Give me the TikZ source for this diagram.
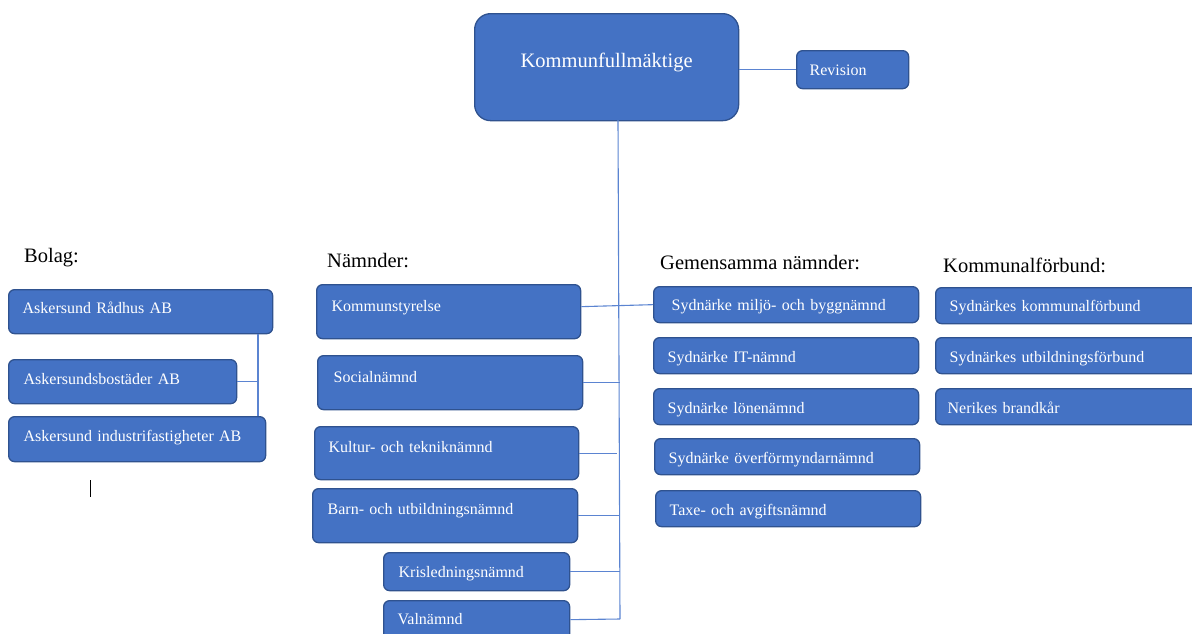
\documentclass[tikz,border=0pt]{standalone}
\usepackage{fontspec}
\setmainfont{Liberation Serif}
\definecolor{fyll}{HTML}{4472C4}
\definecolor{kant}{HTML}{2F528F}
\definecolor{streck}{HTML}{5B84D1}

\begin{document}
\begin{tikzpicture}[x=1pt,y=-1pt,
  ruta/.style={draw=kant,fill=fyll,line width=1.3pt,rounded corners=6pt,text=white,font=\fontsize{16}{19}\selectfont,align=left,inner ysep=0pt,anchor=north west},
  matt/.style n args={4}{text width=#1pt,inner xsep=#2pt,text height=#3pt,text depth=#4pt},
  rubrik/.style={font=\fontsize{20.5}{24}\selectfont,inner sep=0pt,anchor=base west},
  linje/.style={draw=streck,line width=1.1pt}]

                \useasboundingbox (0,0) rectangle (1192,633);

                % fullmäktige och revision
                \node[ruta, rounded corners=16pt, align=center, font=\fontsize{20.5}{24}\selectfont, matt={244}{10}{54}{53}] (kf) at (474,13) {Kommunfullmäktige};
                \node[ruta, matt={86}{13}{25}{13}] (rev) at (796,50) {Revision};

                % rubriker
                \node[rubrik] (bolag) at (24,262) {Bolag:};
                \node[rubrik] (namnder) at (327,267) {Nämnder:};
                \node[rubrik] (gemensamma) at (660,269) {Gemensamma nämnder:};
                \node[rubrik] (forbund) at (943,272) {Kommunalförbund:};

                % bolag
                \node[ruta, matt={236}{14}{24}{20}] (b1) at (8,289) {Askersund Rådhus AB};
                \node[ruta, matt={198}{15}{25}{19}] (b2) at (8,359) {Askersundsbostäder AB};
                \node[ruta, matt={227}{15}{25}{20}] (b3) at (8,416) {Askersund industrifastigheter AB};

                % nämnder
                \node[ruta, matt={234}{15}{27}{27}] (n1) at (316,284) {Kommunstyrelse};
                \node[ruta, matt={233}{16}{27}{27}] (n2) at (317,355) {Socialnämnd};
                \node[ruta, matt={236}{14}{26}{27}] (n3) at (314,426) {Kultur- och tekniknämnd};
                \node[ruta, matt={235}{15}{26}{28}] (n4) at (312,488) {Barn- och utbildningsnämnd};
                \node[ruta, matt={156}{15}{25}{13}] (n5) at (383,552) {Krisledningsnämnd};
                \node[ruta, matt={158}{14}{24}{24}] (n6) at (383,600) {Valnämnd};

                % gemensamma nämnder
                \node[ruta, matt={229}{18}{24}{12}] (g1) at (653,286) {Sydnärke miljö- och byggnämnd};
                \node[ruta, matt={237}{14}{25}{11}] (g2) at (653,337) {Sydnärke IT-nämnd};
                \node[ruta, matt={237}{14}{25}{11}] (g3) at (653,388) {Sydnärke lönenämnd};
                \node[ruta, matt={237}{14}{25}{11}] (g4) at (654,438) {Sydnärke överförmyndarnämnd};
                \node[ruta, matt={237}{14}{25}{11}] (g5) at (655,490) {Taxe- och avgiftsnämnd};

                % kommunalförbund
                \node[ruta, matt={237}{14}{24}{12}] (k1) at (935,287) {Sydnärkes kommunalförbund};
                \node[ruta, matt={237}{14}{25}{11}] (k2) at (935,337) {Sydnärkes utbildningsförbund};
                \node[ruta, matt={241}{12}{25}{11}] (k3) at (935,388) {Nerikes brandkår};

                \coordinate (stamtopp) at (618,120);
                \coordinate (stamfot) at (620,619);
                \coordinate (bolagstam) at (258,383);

                \draw[linje] (rev.west) -- (rev.west -| kf.east);
                \draw[linje] (stamtopp) -- (stamfot);
                \draw[linje] ([yshift=5pt]n1.east) -- (g1.west);
                \draw[linje] (n2.east) -- (n2.east -| stamfot);
                \draw[linje] (n3.east) -- ([xshift=-3pt]n3.east -| stamfot);
                \draw[linje] (n4.east) -- (n4.east -| stamfot);
                \draw[linje] (n5.east) -- (n5.east -| stamfot);
                \draw[linje] ([yshift=5pt]n6.east) -- (stamfot);
                \draw[linje] (b1.south -| bolagstam) -- (b3.north -| bolagstam);
                \draw[linje] (b2.east) -- (b2.east -| bolagstam);

                \draw[black, line width=1pt] (90,480) -- (90,497);

                ;
            \end{tikzpicture}
\end{document}
